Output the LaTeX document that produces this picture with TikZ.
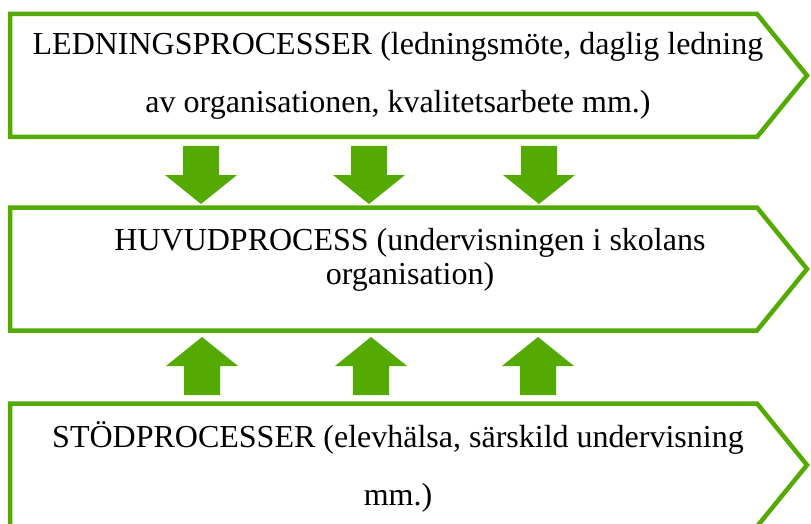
\documentclass[tikz,border=0pt]{standalone}
\usepackage{fontspec}
\setmainfont{Liberation Serif}
\definecolor{procgreen}{RGB}{84,170,0}

\begin{document}
\begin{tikzpicture}[x=1pt,y=-1pt]
    \tikzstyle{proc} = [draw=procgreen,line width=4.5pt,fill=white,line join=miter]
    \tikzstyle{flow} = [fill=procgreen]
    \tikzstyle{proctext} = [anchor=base,align=center,inner sep=0pt,font=\fontsize{32}{58}\selectfont]
    \useasboundingbox (0,0) rectangle (811,524);
    % the three process frames
    \draw [proc] (10,14) -- (757,14) -- (807,75.5) -- (757,137) -- (10,137) -- cycle;
    \draw [proc] (10,207.5) -- (757,207.5) -- (807,269) -- (757,330.5) -- (10,330.5) -- cycle;
    \draw [proc] (10,403.5) -- (757,403.5) -- (807,465) -- (757,526.5) -- (10,526.5) -- cycle;
    % arrows from the leading processes down to the main process
    \foreach \x in {201,369,539}
        \fill [flow] (\x-18,146) -- (\x+18,146) -- (\x+18,175) -- (\x+36,175)
            -- (\x,204) -- (\x-36,175) -- (\x-18,175) -- cycle;
    % arrows from the support processes up to the main process
    \foreach \x in {202,371,538}
        \fill [flow] (\x-18,395) -- (\x+18,395) -- (\x+18,366) -- (\x+36,366)
            -- (\x,337) -- (\x-36,366) -- (\x-18,366) -- cycle;
    % base anchor sits on the last line
    \node [proctext] (lead) at (398,113) {LEDNINGSPROCESSER (ledningsmöte, daglig ledning\\av organisationen, kvalitetsarbete mm.)};
    \node [proctext,font=\fontsize{32}{34}\selectfont] (main) at (410,284) {HUVUDPROCESS (undervisningen i skolans\\organisation)};
    \node [proctext] (support) at (398,505) {STÖDPROCESSER (elevhälsa, särskild undervisning\\mm.)};
\end{tikzpicture}
\end{document}
